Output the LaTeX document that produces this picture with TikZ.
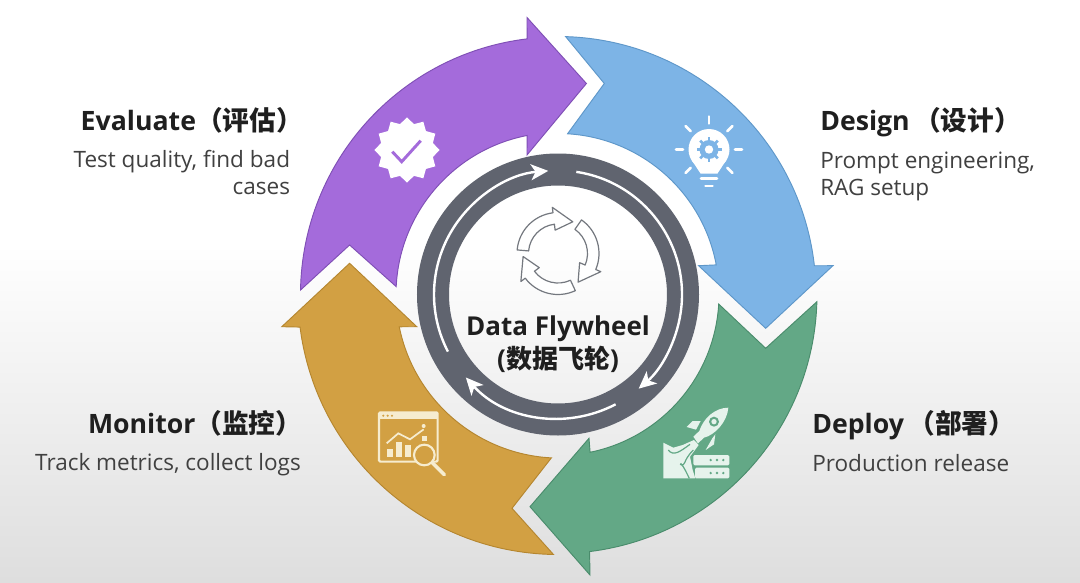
\documentclass[tikz,border=0pt]{standalone}
\usepackage{xcolor}
\usepackage{fontspec}
\setmainfont{Open Sans}
\newfontfamily\cjk{Noto Sans CJK SC}
\usetikzlibrary{shapes.geometric, arrows.meta, positioning}
\definecolor{evalpurple}{HTML}{A46BDB}
\definecolor{evaledge}{HTML}{7F4FB5}
\definecolor{designblue}{HTML}{7DB4E6}
\definecolor{designedge}{HTML}{5E97C9}
\definecolor{deploygreen}{HTML}{63A886}
\definecolor{deployedge}{HTML}{4A8C6C}
\definecolor{monitorgold}{HTML}{D2A043}
\definecolor{monitoredge}{HTML}{B5862F}
\definecolor{ringgray}{HTML}{60646F}
\definecolor{icongray}{HTML}{74787F}
\definecolor{cream}{HTML}{F6ECCF}
\definecolor{mint}{HTML}{E6F3EC}
\definecolor{backgray}{HTML}{DEDEDE}

\begin{document}
\begin{tikzpicture}[
    x=0.75pt, y=0.75pt,
    every node/.style={inner sep=0pt, text=black!88},
    headtext/.style={font=\fontsize{20}{23}\selectfont\bfseries},
    desctext/.style={font=\fontsize{16.9}{20.25}\selectfont, text=black!75},
    hub/.style={font=\fontsize{19.5}{24}\selectfont\bfseries, align=center},
    ringarrow/.style={line width=0.7pt, line join=miter},
    flowline/.style={white, line width=1.8pt, -{Stealth[length=13pt, width=12pt, inset=3.5pt]}},
    recycle/.style={draw=icongray, line width=0.9pt, fill=white, line join=round},
    gearline/.style={designblue, line width=2pt},
    rayline/.style={white, line width=2pt, line cap=round},
]
    % Page
    \fill[white] (-558,-287.5) rectangle (522,294.5);
    \shade[top color=white, bottom color=backgray] (-558,-287.5) rectangle (522,50);

    % Flywheel arrows
    \filldraw[ringarrow, fill=evalpurple, draw=evaledge]
        (179:257.5) arc[start angle=179, end angle=96.9, radius=257.5]
        -- (-31,277) -- (28.4,211) -- (-31,139.5)
        -- (101:162) arc[start angle=101, end angle=177.2, radius=162]
        -- (-208.4,49.5) -- cycle;
    \filldraw[ringarrow, fill=designblue, draw=designedge]
        (88.3:258) arc[start angle=88.3, end angle=6.4, radius=258]
        -- (274.9,28.8) -- (207.7,-33.8) -- (140.6,28.8)
        -- (10.6:161) arc[start angle=10.6, end angle=86.6, radius=161]
        -- (46.3,211) -- cycle;
    \filldraw[ringarrow, fill=deploygreen, draw=deployedge]
        (-1.6:259) arc[start angle=-1.6, end angle=-83, radius=259]
        -- (32,-280.5) -- (-28,-212.2) -- (31,-143.8)
        -- (-78.5:161) arc[start angle=-78.5, end angle=-3.4, radius=161]
        -- (207.7,-53.8) -- cycle;
    \filldraw[ringarrow, fill=monitorgold, draw=monitoredge]
        (-91:260) arc[start angle=-91, end angle=-172.8, radius=260]
        -- (-276.2,-32.2) -- (-208.4,31.2) -- (-141.2,-32.2)
        -- (-168.5:162) arc[start angle=-168.5, end angle=-93, radius=164]
        -- (-46,-213.8) -- cycle;

    % Ring
    \fill[ringgray, even odd rule] (0,0) circle[radius=141] (0,0) circle[radius=109];
    \draw[flowline] (207.4:124) arc[start angle=207.4, end angle=94.5, radius=124];
    \draw[flowline] (81.5:124) arc[start angle=81.5, end angle=-49.4, radius=124];
    \draw[flowline] (-62.3:124) arc[start angle=-62.3, end angle=-138, radius=124];

    % Recycle icon
    \foreach \a in {0,-120,-240} {
        \draw[recycle, shift={(0,41)}, rotate=\a]
            (175:41) arc[start angle=175, end angle=97, radius=41]
            -- (97:46.5) -- (65:35) -- (97:23.5) -- (97:29.5)
            arc[start angle=97, end angle=175, radius=29.5] -- cycle;
    }

    % Hub label
    \node[hub] (hubtext) at (0,-50) {Data Flywheel\\[1pt]({\cjk 数据飞轮})};

    % Evaluate icon
    \node[star, star points=12, star point ratio=1.22, fill=white, minimum size=49pt] (badge) at (-151,144.5) {};
    \draw[evalpurple, line width=2.2pt, line join=miter] (-165.7,142.8) -- (-156.3,132.8) -- (-137.3,153.8);

    % Design icon
    \begin{scope}[shift={(151,145)}]
        \foreach \r in {0,45,...,180,-45,-135} {
            \draw[rayline] (\r:26) -- (\r:33);
        }
        \fill[white] (0,0) circle[radius=20.5];
        \fill[white] (-17,-11) -- (-8.5,-24) -- (8.5,-24) -- (17,-11) -- cycle;
        \draw[rayline] (-8,-29) -- (8,-29);
        \draw[rayline] (-3.5,-36.5) -- (3.5,-36.5);
        \fill[designblue] (0,0) circle[radius=9.5];
        \foreach \r in {0,45,...,315} {
            \draw[gearline] (\r:8) -- (\r:12.5);
        }
        \fill[white] (0,0) circle[radius=4.2];
    \end{scope}

    % Deploy icon
    \begin{scope}[shift={(82,-100.5)}, x=0.25pt, y=-0.25pt]
        \fill[mint] (70,143) -- (100,158) -- (128,150) -- (162,135) -- (176,150) -- (150,185)
            -- (158,225) -- (166,250) -- (70,250) -- cycle;
        \fill[mint, rounded corners=1pt] (160,180) rectangle (268,211);
        \fill[mint, rounded corners=1pt] (165,218) rectangle (268,250);
        \foreach \px in {212,231,250} {
            \fill[deploygreen] (\px,195) circle[radius=4];
            \fill[deploygreen] (\px,234) circle[radius=4];
        }
        \draw[deploygreen, line width=0.9pt] (85,165) .. controls (100,185) and (120,170) .. (150,148);
        \draw[deploygreen, line width=0.9pt] (120,208) .. controls (140,215) and (125,200) .. (160,165);
        \draw[deploygreen, line width=0.9pt] (122,205) .. controls (135,220) and (140,235) .. (148,250);
        % rocket
        \fill[mint] (265,38) .. controls (225,38) and (190,70) .. (178,108) -- (160,125) -- (174,145)
            -- (192,128) .. controls (225,120) and (262,80) .. (265,38) -- cycle;
        \fill[mint] (140,96) -- (158,78) -- (182,78) -- (168,104) -- cycle;
        \fill[mint] (197,165) -- (217,130) -- (226,118) -- (222,148) -- cycle;
        \fill[deploygreen] (222,80) circle[radius=15];
        \fill[mint] (222,80) circle[radius=8];
    \end{scope}

    % Monitor icon
    \begin{scope}[shift={(-193,-105.5)}, x=0.25pt, y=-0.25pt]
        \draw[cream, line width=1.6pt, rounded corners=1pt] (42,37) rectangle (218,185);
        \fill[cream] (42,37) rectangle (218,58);
        \foreach \px in {55,68,81} {
            \fill[monitorgold] (\px,47) circle[radius=3.5];
        }
        \fill[cream] (66,146) rectangle (85,170);
        \fill[cream] (93,125) rectangle (111,170);
        \fill[cream] (121,135) rectangle (139,170);
        \draw[cream, line width=1.3pt] (65,130) -- (100,100) -- (135,118) -- (176,88);
        \fill[cream] (176,78) circle[radius=6];
        \fill[cream] (172,108) rectangle (187,122);
        \filldraw[draw=cream, fill=monitorgold, line width=1.6pt] (178,165) circle[radius=31];
        \draw[cream, line width=2.6pt, line cap=round] (202,188) -- (238,224);
    \end{scope}

    % Labels
    \node[headtext, anchor=east] (evalhead) at (-255,174.5) {Evaluate{\cjk（评估）}};
    \node[desctext, align=right, below=12.75pt of evalhead.south east, xshift=-9.5pt, anchor=north east] (evaldesc) {Test quality, find bad\\cases};
    \node[headtext, anchor=west] (designhead) at (262,172.5) {Design\,{\cjk（设计）}};
    \node[desctext, align=left, below=11.25pt of designhead.south west, anchor=north west] (designdesc) {Prompt engineering,\\RAG setup};
    \node[headtext, anchor=east] (monitorhead) at (-255.5,-128.5) {Monitor{\cjk（监控）}};
    \node[desctext, anchor=center] (monitordesc) at (-390,-170.5) {Track metrics, collect logs};
    \node[headtext, anchor=west] (deployhead) at (254,-130.5) {Deploy\,{\cjk（部署）}};
    \node[desctext, below=10.5pt of deployhead.south west, anchor=north west] (deploydesc) {Production release};
\end{tikzpicture}
\end{document}
